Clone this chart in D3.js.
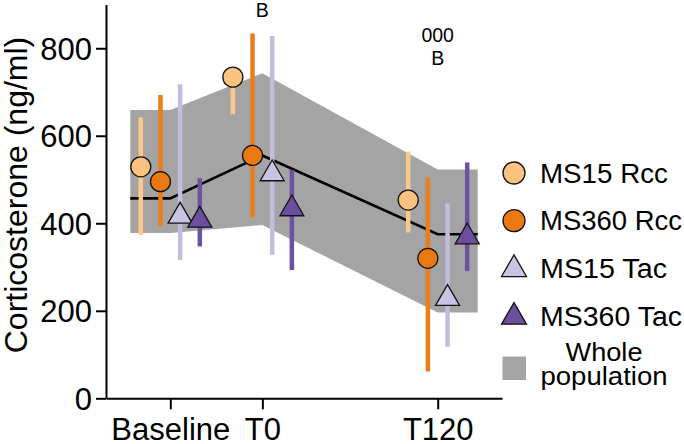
<!DOCTYPE html>
<html>
<head>
<meta charset="utf-8">
<script src="https://cdn.jsdelivr.net/npm/d3@7"></script>
<style>
  html, body { margin: 0; padding: 0; background: #fff; }
  svg { display: block; font-family: "Liberation Sans", Arial, Helvetica, sans-serif; }
</style>
</head>
<body>
<svg id="chart" width="684" height="444"></svg>
<script>
// ---------- data ----------
const timeLabels = ["Baseline", "T0", "T120"];
const times = [-63, 0, 120];           // minutes (baseline placed before T0)
const yTicks = [0, 200, 400, 600, 800];

const seriesNames = ["MS15 Rcc", "MS360 Rcc", "MS15 Tac", "MS360 Tac"];
const seriesShapes = ["circle", "circle", "triangle", "triangle"];
const seriesFill = ["#fcc27f", "#eb7912", "#c9c4e3", "#6b4e9e"];
const seriesBar = ["#fbc98d", "#ea7d1c", "#c2bde0", "#6e52a2"];

const ms15RccMean = [529, 734, 453];
const ms15RccLow = [373, 649, 379];
const ms15RccHigh = [642, 752, 564];

const ms360RccMean = [495, 555, 320];
const ms360RccLow = [394, 414, 61];
const ms360RccHigh = [693, 834, 504];

const ms15TacMean = [416, 513, 228];
const ms15TacLow = [316, 328, 118];
const ms15TacHigh = [718, 828, 446];

const ms360TacMean = [407, 433, 369];
const ms360TacLow = [347, 293, 291];
const ms360TacHigh = [503, 522, 539];

const popMean = [457, 555, 375];
const popLow = [378, 396, 196];
const popHigh = [659, 743, 523];

const annotT0 = ["B"];
const annotT120 = ["000", "B"];

const legendLabels = ["MS15 Rcc", "MS360 Rcc", "MS15 Tac", "MS360 Tac"];
const legendWidths = [128, 142, 127, 142];
const bandLabel = ["Whole", "population"];
const bandLabelWidths = [77, 127];

// ---------- build ----------
const means = [ms15RccMean, ms360RccMean, ms15TacMean, ms360TacMean];
const lows = [ms15RccLow, ms360RccLow, ms15TacLow, ms360TacLow];
const highs = [ms15RccHigh, ms360RccHigh, ms15TacHigh, ms360TacHigh];

const svg = d3.select("#chart");

const x = d3.scaleLinear().domain([-107, 164]).range([106, 502]);
const y = d3.scaleLinear().domain([0, 900]).range([398.3, 4.5]);
const dodge = d3.scalePoint().domain(seriesNames).range([-29.5, 29.5]);

const bandPad = 40;
const bandPts = [];
bandPts.push({px: x(times[0]) - bandPad, lo: popLow[0], hi: popHigh[0], m: popMean[0]});
times.forEach((t, i) => bandPts.push({px: x(t), lo: popLow[i], hi: popHigh[i], m: popMean[i]}));
bandPts.push({px: x(times[2]) + bandPad, lo: popLow[2], hi: popHigh[2], m: popMean[2]});

svg.append("path")
  .datum(bandPts)
  .attr("fill", "#a4a4a4")
  .attr("d", d3.area().x(d => d.px).y0(d => y(d.lo)).y1(d => y(d.hi)));

svg.append("path")
  .datum(bandPts)
  .attr("fill", "none")
  .attr("stroke", "#000")
  .attr("stroke-width", 2.6)
  .attr("d", d3.line().x(d => d.px).y(d => y(d.m)));

// error bars
seriesNames.forEach((s, si) => {
  times.forEach((t, ti) => {
    const cx = x(t) + dodge(s);
    svg.append("line")
      .attr("x1", cx).attr("x2", cx)
      .attr("y1", y(lows[si][ti])).attr("y2", y(highs[si][ti]))
      .attr("stroke", seriesBar[si])
      .attr("stroke-width", 4.5);
  });
});

// markers
const triSym = d3.symbol().type(d3.symbolTriangle).size(250);
seriesNames.forEach((s, si) => {
  times.forEach((t, ti) => {
    const cx = x(t) + dodge(s);
    const cy = y(means[si][ti]);
    if (seriesShapes[si] === "circle") {
      svg.append("circle").attr("cx", cx).attr("cy", cy).attr("r", 10)
        .attr("fill", seriesFill[si]).attr("stroke", "#111").attr("stroke-width", 1.3);
    } else {
      svg.append("path").attr("d", triSym()).attr("transform", `translate(${cx},${cy})`)
        .attr("fill", seriesFill[si]).attr("stroke", "#111").attr("stroke-width", 1.3);
    }
  });
});

// axes
const yAxis = svg.append("g")
  .attr("transform", `translate(${x.range()[0]},0)`)
  .call(d3.axisLeft(y).tickValues(yTicks).tickSize(10).tickSizeOuter(0).tickPadding(4));
const xAxis = svg.append("g")
  .attr("transform", `translate(0,${y.range()[0]})`)
  .call(d3.axisBottom(x).tickValues(times).tickFormat((d, i) => timeLabels[i]).tickSize(11).tickSizeOuter(0));

[yAxis, xAxis].forEach(g => {
  g.select(".domain").attr("stroke", "#000").attr("stroke-width", 2);
  g.selectAll(".tick line").attr("stroke", "#000").attr("stroke-width", 2);
  g.selectAll(".tick text").attr("fill", "#000").style("font-size", "31px")
    .style("font-family", "'Liberation Sans', Arial, sans-serif");
});
yAxis.selectAll(".tick text").attr("dy", "0.36em");
xAxis.selectAll(".tick text").attr("y", 41.5).attr("dy", 0);

// y label
svg.append("text")
  .attr("transform", `translate(27,195) rotate(-90)`)
  .attr("text-anchor", "middle")
  .style("font-size", "32px")
  .text("Corticosterone (ng/ml)");

// annotations
svg.append("text").attr("x", x(times[1])).attr("y", 16.7).attr("text-anchor", "middle")
  .style("font-size", "19.5px").text(annotT0[0]);
annotT120.forEach((a, i) => {
  svg.append("text").attr("x", x(times[2])).attr("y", 41.7 + i * 23.5).attr("text-anchor", "middle")
    .style("font-size", "19.5px").text(a);
});

// legend
const legX = 514, legTextX = 540;
const legY = d3.scalePoint().domain(legendLabels).range([173, 316]);
const legTri = d3.symbol().type(d3.symbolTriangle).size(270);
legendLabels.forEach((l, i) => {
  const cy = legY(l);
  if (seriesShapes[i] === "circle") {
    svg.append("circle").attr("cx", legX).attr("cy", cy).attr("r", 11)
      .attr("fill", seriesFill[i]).attr("stroke", "#111").attr("stroke-width", 1.3);
  } else {
    svg.append("path").attr("d", legTri()).attr("transform", `translate(${legX},${cy + 1})`)
      .attr("fill", seriesFill[i]).attr("stroke", "#111").attr("stroke-width", 1.3);
  }
  svg.append("text").attr("x", legTextX).attr("y", cy + 9.7)
    .attr("textLength", legendWidths[i]).attr("lengthAdjust", "spacingAndGlyphs")
    .style("font-size", "27px").text(l);
});
svg.append("rect").attr("x", 502.5).attr("y", 356.5).attr("width", 23.5).attr("height", 23.5)
  .attr("fill", "#a4a4a4");
const bandText = svg.append("text").attr("text-anchor", "middle").style("font-size", "26px");
bandLabel.forEach((t, i) => {
  bandText.append("tspan").attr("x", 604).attr("y", 361 + i * 23.5)
    .attr("textLength", bandLabelWidths[i]).attr("lengthAdjust", "spacingAndGlyphs")
    .text(t);
});
</script>
</body>
</html>
